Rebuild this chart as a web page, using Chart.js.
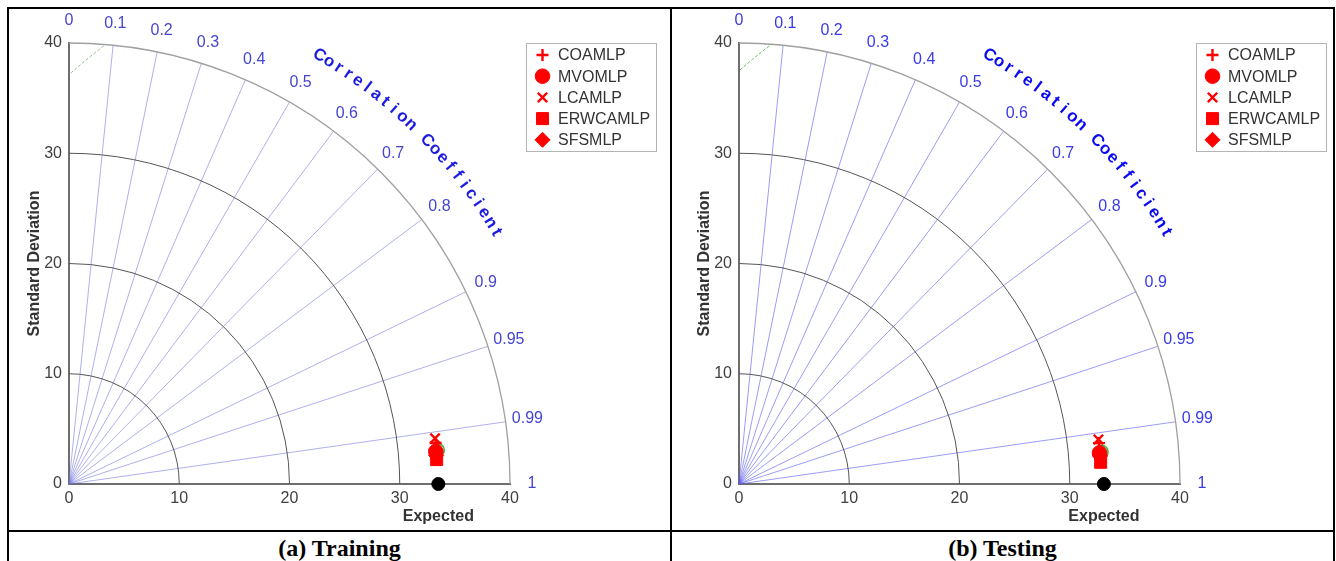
<!DOCTYPE html>
<html>
<head>
<meta charset="utf-8">
<title>Taylor diagrams</title>
<script src="https://cdn.jsdelivr.net/npm/chart.js@4.4.1/dist/chart.umd.min.js"></script>
<style>
  html, body { margin: 0; padding: 0; background: #fff; }
  body { width: 1336px; height: 561px; position: relative; overflow: hidden; font-family: "Liberation Sans", Arial, sans-serif; }
  .rule { position: absolute; background: #000; }
  canvas { position: absolute; }
  .caption { position: absolute; top: 536px; height: 30px; line-height: 24px; text-align: center;
             font-family: "Liberation Serif", "Times New Roman", serif; font-weight: bold; font-size: 24px; color: #000; }
</style>
</head>
<body>
  <div class="rule" style="left:7px;top:7px;width:1328px;height:2px"></div>
  <div class="rule" style="left:7px;top:7px;width:2px;height:560px"></div>
  <div class="rule" style="left:670px;top:7px;width:2px;height:560px"></div>
  <div class="rule" style="left:1333px;top:7px;width:2px;height:560px"></div>
  <div class="rule" style="left:7px;top:530px;width:1328px;height:2px"></div>

  <canvas id="train" width="658" height="518" style="left:10px;top:10px"></canvas>
  <canvas id="test" width="660" height="518" style="left:672px;top:10px"></canvas>

  <div class="caption" style="left:9px;width:661px">(a) Training</div>
  <div class="caption" style="left:672px;width:661px">(b) Testing</div>

<script>
// ---- data ----------------------------------------------------------------
const models = ['COAMLP', 'MVOMLP', 'LCAMLP', 'ERWCAMLP', 'SFSMLP'];
const markerStyles = ['cross', 'circle', 'crossRot', 'rect', 'rectRot'];
const markerRadius = [6, 7.3, 6.6, 8.5, 7.5];

// standard deviation and correlation of each model
const trainStd  = [33.46, 33.40, 33.46, 33.42, 33.40];
const trainCorr = [0.9938, 0.9961, 0.9923, 0.9978, 0.9970];
const testStd   = [32.86, 32.82, 32.85, 32.86, 32.85];
const testCorr  = [0.9936, 0.9963, 0.9924, 0.9982, 0.9970];

// observed (expected) standard deviation
const trainExpected = 33.5;
const testExpected  = 33.1;

// green outlined mark sitting behind the model cluster [std, corr]
const trainHalo = [33.59, 0.9958];
const testHalo  = [33.01, 0.9961];

// axes and grid
const stdTicks = [0, 10, 20, 30, 40];
const stdArcs = [10, 20, 30, 40];
const corrLines = [0.1, 0.2, 0.3, 0.4, 0.5, 0.6, 0.7, 0.8, 0.9, 0.95, 0.99];
const corrLabelValues = [0, 0.1, 0.2, 0.3, 0.4, 0.5, 0.6, 0.7, 0.8, 0.9, 0.95, 0.99, 1];
const corrLabels = ['0', '0.1', '0.2', '0.3', '0.4', '0.5', '0.6', '0.7', '0.8', '0.9', '0.95', '0.99', '1'];
const rmsContours = [50];
const maxStd = 40;

// ---- helpers -------------------------------------------------------------
const FONT = '"Liberation Sans", Arial, sans-serif';
const toXY = (std, corr) => ({ x: std * corr, y: std * Math.sqrt(Math.max(0, 1 - corr * corr)) });

const taylorPlugin = {
  id: 'taylor',
  beforeDatasetsDraw(chart, args, opts) {
    const { ctx } = chart;
    const xs = chart.scales.x, ys = chart.scales.y;
    const px = v => xs.getPixelForValue(v), py = v => ys.getPixelForValue(v);
    const ox = px(0), oy = py(0);
    ctx.save();

    // correlation rays
    ctx.lineWidth = 1;
    ctx.strokeStyle = opts.rayColor;
    corrLines.forEach(c => {
      const s = Math.sqrt(1 - c * c);
      ctx.beginPath();
      ctx.moveTo(ox, oy);
      ctx.lineTo(px(maxStd * c), py(maxStd * s));
      ctx.stroke();
    });

    // standard deviation arcs
    stdArcs.forEach(r => {
      ctx.beginPath();
      ctx.strokeStyle = r === maxStd ? '#a0a0a0' : '#555555';
      ctx.lineWidth = r === maxStd ? 1.3 : 1;
      ctx.ellipse(ox, oy, px(r) - ox, oy - py(r), 0, -Math.PI / 2, 0);
      ctx.stroke();
    });

    // centred RMS difference contours, kept inside the quarter disc
    ctx.save();
    ctx.beginPath();
    ctx.moveTo(ox, oy);
    ctx.ellipse(ox, oy, px(maxStd) - ox, oy - py(maxStd), 0, -Math.PI / 2, 0);
    ctx.closePath();
    ctx.clip();
    ctx.strokeStyle = opts.rmsColor;
    ctx.setLineDash([3, 2]);
    ctx.lineWidth = 1;
    rmsContours.forEach(r => {
      ctx.beginPath();
      ctx.ellipse(px(opts.expected), oy, px(r) - ox, oy - py(r), 0, 0, 2 * Math.PI);
      ctx.stroke();
    });
    ctx.restore();
    ctx.restore();
  },
  afterDatasetsDraw(chart, args, opts) {
    const { ctx, chartArea } = chart;
    const xs = chart.scales.x, ys = chart.scales.y;
    const px = v => xs.getPixelForValue(v), py = v => ys.getPixelForValue(v);
    const oy = py(0);
    ctx.save();

    // correlation tick labels
    ctx.fillStyle = opts.labelColor;
    ctx.font = '16px ' + FONT;
    ctx.textAlign = 'center';
    ctx.textBaseline = 'middle';
    corrLabelValues.forEach((c, i) => {
      const s = Math.sqrt(1 - c * c);
      ctx.fillText(corrLabels[i], px(42 * c), py(42 * s));
    });

    // curved axis title
    const title = 'Correlation Coefficient';
    const a0 = 59.7, a1 = 30.5, rT = 45;
    ctx.fillStyle = opts.titleColor;
    ctx.font = 'bold 17px ' + FONT;
    for (let i = 0; i < title.length; i++) {
      const deg = a0 + (a1 - a0) * i / (title.length - 1);
      const th = deg * Math.PI / 180;
      ctx.save();
      ctx.translate(px(rT * Math.cos(th)), py(rT * Math.sin(th)));
      ctx.rotate((90 - deg) * Math.PI / 180);
      ctx.fillText(title[i], 0, 0);
      ctx.restore();
    }

    // label under the observed point
    ctx.fillStyle = '#333333';
    ctx.font = 'bold 16px ' + FONT;
    ctx.fillText('Expected', px(opts.expected), oy + 33);

    // legend box
    const lx = chartArea.right + 16, ly = chartArea.top, lw = 130, lh = 108;
    ctx.fillStyle = '#ffffff';
    ctx.fillRect(lx, ly, lw, lh);
    ctx.strokeStyle = '#b4b4b4';
    ctx.lineWidth = 1;
    ctx.strokeRect(lx + 0.5, ly + 0.5, lw, lh);
    chart.data.datasets.forEach(ds => {
      const idx = models.indexOf(ds.label);
      if (idx < 0) return;
      const y = ly + 12 + idx * 21.2;
      ctx.fillStyle = ds.backgroundColor;
      ctx.strokeStyle = ds.borderColor;
      ctx.lineWidth = ds.borderWidth;
      Chart.helpers.drawPoint(ctx, { pointStyle: ds.pointStyle, radius: ds.pointRadius, borderWidth: ds.borderWidth, rotation: 0 }, lx + 16.5, y);
      ctx.fillStyle = '#333333';
      ctx.font = '16px ' + FONT;
      ctx.textAlign = 'left';
      ctx.fillText(ds.label, lx + 32, y + 1);
    });
    ctx.restore();
  }
};

function buildChart(id, stds, corrs, expected, halo, padLeft, padRight, colors) {
  const datasets = models.map((m, i) => ({
    label: m,
    data: [toXY(stds[i], corrs[i])],
    pointStyle: markerStyles[i],
    pointRadius: markerRadius[i],
    backgroundColor: '#ff0000',
    borderColor: '#ff0000',
    borderWidth: (markerStyles[i] === 'cross' || markerStyles[i] === 'crossRot') ? 2.4 : 1,
    clip: false
  }));
  datasets.push({
    label: 'Expected',
    data: [{ x: expected, y: 0 }],
    pointStyle: 'circle', pointRadius: 6.5,
    backgroundColor: '#000000', borderColor: '#000000', borderWidth: 1, clip: false
  });
  datasets.push({
    label: '',
    data: [toXY(halo[0], halo[1])],
    pointStyle: 'circle', pointRadius: 6.5,
    backgroundColor: 'rgba(0,0,0,0)', borderColor: '#3cb43c', borderWidth: 1.6, clip: false
  });

  const tickFont = { family: FONT, size: 16 };
  return new Chart(document.getElementById(id), {
    type: 'scatter',
    data: { datasets },
    plugins: [taylorPlugin],
    options: {
      responsive: false,
      animation: false,
      events: [],
      layout: { padding: { left: padLeft, top: 33, right: padRight, bottom: 0 } },
      plugins: {
        legend: { display: false },
        tooltip: { enabled: false },
        taylor: Object.assign({ expected }, colors)
      },
      scales: {
        x: {
          type: 'linear', position: 'bottom', min: 0, max: maxStd,
          afterBuildTicks: s => { s.ticks = stdTicks.map(v => ({ value: v })); },
          ticks: { padding: 5, color: '#404040', font: tickFont },
          grid: { display: false, drawTicks: false },
          border: { display: true, color: '#6e6e6e', width: 2 },
          afterFit: s => { s.height = 44; }
        },
        y: {
          type: 'linear', position: 'left', min: 0, max: maxStd,
          afterBuildTicks: s => { s.ticks = stdTicks.map(v => ({ value: v })); },
          ticks: { padding: 7, color: '#404040', font: tickFont },
          grid: { display: false, drawTicks: false },
          border: { display: true, color: '#6e6e6e', width: 2 },
          title: { display: true, text: 'Standard Deviation', color: '#333333', padding: 0,
                   font: { family: FONT, size: 16, weight: 'bold' } },
          afterFit: s => { s.width = 44; }
        }
      }
    }
  });
}

buildChart('train', trainStd, trainCorr, trainExpected, trainHalo, 15, 158,
  { rayColor: 'rgba(110,110,220,0.55)', rmsColor: '#8cbf8c', labelColor: '#4545d0', titleColor: '#1c1ce0' });
buildChart('test', testStd, testCorr, testExpected, testHalo, 23, 152,
  { rayColor: 'rgba(90,90,240,0.6)', rmsColor: '#55c055', labelColor: '#3a3ae8', titleColor: '#0a0af0' });
</script>
</body>
</html>
